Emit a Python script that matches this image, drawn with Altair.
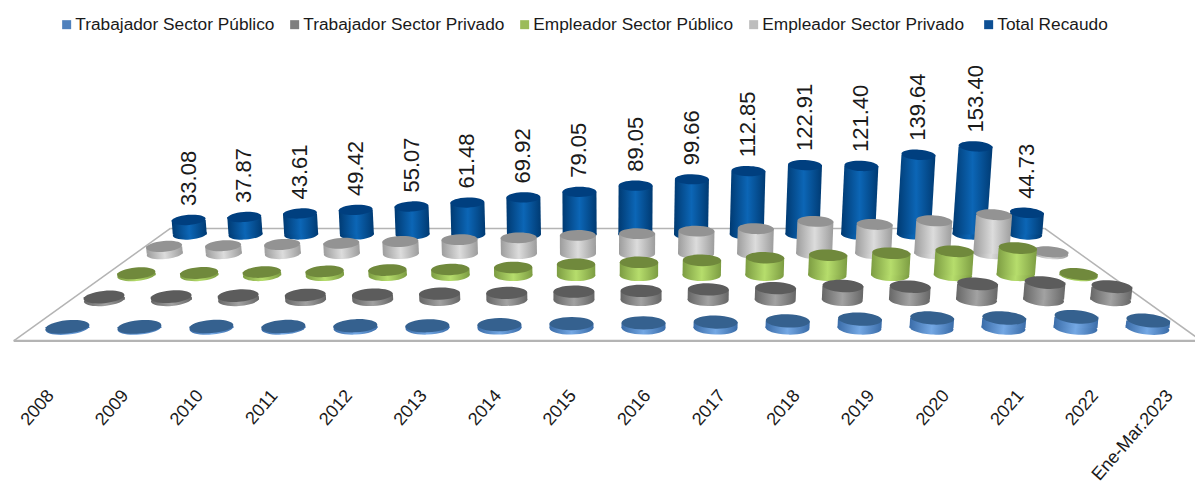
import altair as alt
import pandas as pd

categories = ["2008","2009","2010","2011","2012","2013","2014","2015","2016","2017","2018","2019","2020","2021","2022","Ene-Mar.2023"]
trabajador_publico = [1.5,1.5,2,2,3,3,4.5,6,7,8,9.5,12,13.5,13.5,15,10]
trabajador_privado = [4,4.5,6,7,7.5,9,10,12,13,15,17,20,19,23,25,19]
empleador_publico = [3,3.5,5,6,8,9,12,17,20,23,27,31,34,37,42,2]
empleador_privado = [12,13,15,17,20,23,26,30,33,37,41,53,48,54,64,3]
total_recaudo = [33.08,37.87,43.61,49.42,55.07,61.48,69.92,79.05,89.05,99.66,112.85,122.91,121.40,139.64,153.40,44.73]

series_names = ["Trabajador Sector Público","Trabajador Sector Privado","Empleador Sector Público","Empleador  Sector Privado","Total Recaudo"]
series_values = [trabajador_publico, trabajador_privado, empleador_publico, empleador_privado, total_recaudo]
legend_colors = ["#4f81bd","#7f7f7f","#9bbb59","#bdbdbd","#0d4f94"]
cap_colors = ["#35618f","#5c5c5c","#70893c","#939393","#003f7f"]
body_stops = [("#3a6ca8","#74a8e4"),("#666666","#a2a2a2"),("#7c9c42","#b6dd6c"),("#9c9c9c","#dcdcdc"),("#003a72","#0c66b6")]

# one-point perspective of the chart's floor
CX, SPACING, HORIZON, FRONT_Y, K = 607.5, 72.0, -85.0, 328.0, 0.0732
DIAM, LEAN, TILT = 44.0, 0.00019, 6.0
FLOOR_W, FLOOR_NEAR, FLOOR_FAR = 8.0, -0.41, 4.34
# px per unit at depth 0, and the value at which the column starts
UNIT = [0.742, 0.742, 0.742, 0.742, 0.79]
START = [0, 0, 0, 0, 9.3]
ELLIPSE = "M-1,0C-1,-0.166,-0.552,-0.3,0,-0.3C0.552,-0.3,1,-0.166,1,0C1,0.166,0.552,0.3,0,0.3C-0.552,0.3,-1,0.166,-1,0Z"

def persp(d):
    return 1 / (1 + K * d)

def project(i, d):
    p = persp(d)
    return CX + (i - 7.5) * SPACING * p, HORIZON + (FRONT_Y - HORIZON) * p, p

rows = []
for d, (name, vals) in enumerate(zip(series_names, series_values)):
    for i, v in enumerate(vals):
        x, y, p = project(i, d)
        h = max(UNIT[d] * p * (v - START[d]), 1)
        w = DIAM * p
        xt = x + (x - CX) * h * LEAN
        a = (x - CX) / (7.5 * SPACING) * TILT
        rows.append(dict(series=name, d=d, i=i, v=v, label=f"{v:.2f}", x=x, y=y, w=w, h=h,
                         xt=xt, yt=y - h, a=(a + 360) % 360, size=w * w))
df = pd.DataFrame(rows)

XS = alt.Scale(domain=[8, 1195], range=[0, 1187], nice=False, zero=False)
YS = alt.Scale(domain=[8, 487], range=[0, 479], nice=False, zero=False)
def X(f, **kw): return alt.X(f, type="quantitative", scale=XS, axis=None, **kw)
def Y(f, **kw): return alt.Y(f, type="quantitative", scale=YS, axis=None, **kw)

def grad(edge, mid):
    return {"gradient": "linear", "x1": 0, "x2": 1, "y1": 0, "y2": 0,
            "stops": [{"offset": 0, "color": edge}, {"offset": 0.5, "color": mid}, {"offset": 1, "color": edge}]}

# floor outline
fx0, fy0, _ = project(7.5 - FLOOR_W, FLOOR_NEAR)
fx1, _, _ = project(7.5 + FLOOR_W, FLOOR_NEAR)
bx0, by0, _ = project(7.5 - FLOOR_W, FLOOR_FAR)
bx1, _, _ = project(7.5 + FLOOR_W, FLOOR_FAR)
floor_df = pd.DataFrame([
    dict(x=fx0, y=fy0, x2=bx0, y2=by0, w=1.5),
    dict(x=bx0, y=by0, x2=bx1, y2=by0, w=1.5),
    dict(x=bx1, y=by0, x2=fx1, y2=fy0, w=1.5),
    dict(x=fx0, y=fy0, x2=fx1, y2=fy0, w=2.2),
])
floor = alt.Chart(floor_df).mark_rule(color="#b4b4b4").encode(
    x=X("x"), y=Y("y"), x2="x2:Q", y2="y2:Q", strokeWidth=alt.StrokeWidth("w:Q", scale=None))

layers = [floor]
for d in [4, 3, 2, 1, 0]:
    sub = df[df.d == d]
    g = grad(*body_stops[d])
    base = alt.Chart(sub).mark_point(shape=ELLIPSE, filled=True, fill=g, opacity=1, strokeWidth=0).encode(
        x=X("x"), y=Y("y"), size=alt.Size("size:Q", scale=None), angle=alt.Angle("a:Q", scale=None))
    long_rows = []
    for r in sub.itertuples():
        long_rows.append(dict(i=r.i, y=r.y, xl=r.x - r.w / 2, xr=r.x + r.w / 2))
        long_rows.append(dict(i=r.i, y=r.yt, xl=r.xt - r.w / 2, xr=r.xt + r.w / 2))
    body = alt.Chart(pd.DataFrame(long_rows)).mark_area(orient="horizontal", fill=g, opacity=1).encode(
        y=Y("y"), x=X("xl"), x2="xr:Q", detail="i:N")
    top = alt.Chart(sub).mark_point(shape=ELLIPSE, filled=True, fill=cap_colors[d], opacity=1, strokeWidth=0).encode(
        x=X("xt"), y=Y("yt"), size=alt.Size("size:Q", scale=None), angle=alt.Angle("a:Q", scale=None))
    layers += [base, body, top]

totals = df[df.d == 4].assign(ly=lambda t: t.yt - 14)
value_labels = alt.Chart(totals).mark_text(angle=270, align="left", baseline="middle", fontSize=22,
                                           font="Liberation Sans", color="#1a1a1a").encode(
    x=X("xt"), y=Y("ly"), text="label:N")
layers.append(value_labels)

# category labels
cat_df = pd.DataFrame(dict(cat=categories, x=[51 + 74.6 * i for i in range(len(categories))], y=[393] * len(categories)))
cat_labels = alt.Chart(cat_df).mark_text(angle=311, align="right", baseline="middle", fontSize=18,
                                         font="Liberation Sans", color="#1a1a1a").encode(
    x=X("x"), y=Y("y"), text="cat:N")
layers.append(cat_labels)

# legend
legend_df = pd.DataFrame(dict(series=series_names, x=[100] * 5, y=[100] * 5))
legend_layer = alt.Chart(legend_df).mark_square(opacity=0, size=1).encode(
    x=X("x"), y=Y("y"),
    color=alt.Color("series:N", sort=series_names,
                    scale=alt.Scale(domain=series_names, range=legend_colors),
                    legend=alt.Legend(orient="none", legendX=45, legendY=8, direction="horizontal", columns=5,
                                      title=None, symbolType="square", symbolSize=81, symbolOpacity=1,
                                      symbolStrokeWidth=0, symbolOffset=5,
                                      labelFontSize=17.3, labelFont="Liberation Sans", labelColor="#1a1a1a",
                                      labelOffset=0, columnPadding=6, labelLimit=400)))
layers.append(legend_layer)

chart = alt.layer(*layers).properties(width=1187, height=479, padding=0,
                                      autosize=alt.AutoSizeParams(type="none", contains="content")).configure_view(stroke=None)
chart.save("out.html", embed_options={"renderer": "svg", "actions": False})
